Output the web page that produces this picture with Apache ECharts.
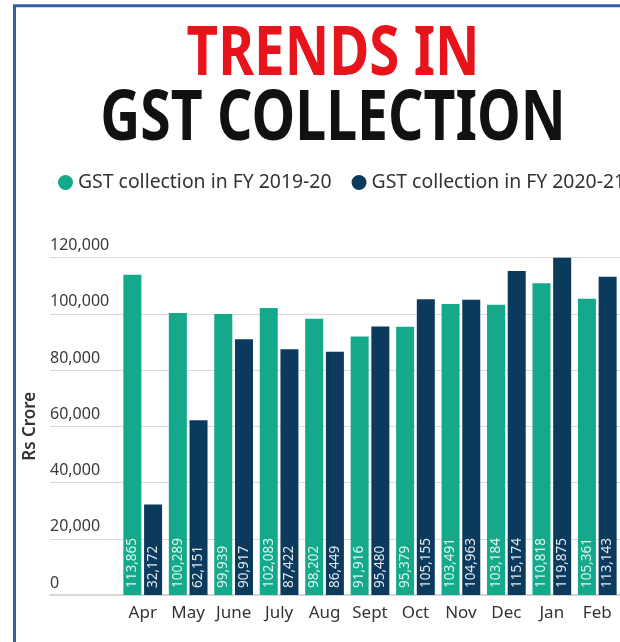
<!DOCTYPE html>
<html>
<head>
<meta charset="utf-8">
<style>
html,body{margin:0;padding:0;background:#ffffff;}
#chart{width:620px;height:642px;}
</style>
<script src="https://cdn.jsdelivr.net/npm/echarts@6/dist/echarts.min.js"></script>
</head>
<body>
<div id="chart"></div>
<script>
const months = ['Apr','May','June','July','Aug','Sept','Oct','Nov','Dec','Jan','Feb'];
const fy1920 = [113865, 100289, 99939, 102083, 98202, 91916, 95379, 103491, 103184, 110818, 105361];
const fy2021 = [32172, 62151, 90917, 87422, 86449, 95480, 105155, 104963, 115174, 119875, 113143];
const yTicks = [0, 20000, 40000, 60000, 80000, 100000, 120000];
const yTickLabels = ['0', '20,000', '40,000', '60,000', '80,000', '100,000', '120,000'];
const seriesNames = ['GST collection in FY 2019-20', 'GST collection in FY 2020-21'];

const FONT = '"Noto Sans", "Open Sans", sans-serif';
const fmt = v => v.toLocaleString('en-US');

const chart = echarts.init(document.getElementById('chart'), null, {renderer: 'canvas'});
chart.setOption({
  backgroundColor: '#ffffff',
  animation: false,
  graphic: [
    {type: 'rect', shape: {x: 14.5, y: 5.8, width: 800, height: 800},
     style: {fill: 'none', stroke: '#3c5ba5', lineWidth: 3}, z: 100},
    {type: 'text', x: 333, y: 22, scaleX: 0.805, z: 10,
     style: {text: 'TRENDS IN', textAlign: 'center', textVerticalAlign: 'top',
             fill: '#e8141c', font: 'bold 68px ' + FONT}},
    {type: 'text', x: 333, y: 85, scaleX: 0.79, z: 10,
     style: {text: 'GST COLLECTION', textAlign: 'center', textVerticalAlign: 'top',
             fill: '#111111', font: 'bold 70px ' + FONT}}
  ],
  legend: {
    left: 53, top: 168, width: 600, icon: 'circle', itemWidth: 15, itemHeight: 15, itemGap: 20,
    data: seriesNames,
    textStyle: {fontSize: 19.4, color: '#333333', fontFamily: FONT}
  },
  grid: [
    {left: 120, right: -1, top: 257.5, bottom: 47},
    {left: 50, right: 0, top: 257.5, bottom: 47}
  ],
  xAxis: [
    {type: 'category', gridIndex: 0, data: months, boundaryGap: true,
     axisLine: {show: false}, axisTick: {show: false},
     axisLabel: {interval: 0, fontSize: 17, color: '#333333', margin: 10, fontFamily: FONT}},
    {type: 'value', gridIndex: 1, show: true, min: 0, max: 1,
     axisLine: {show: true, lineStyle: {color: '#cfcfcf', width: 1.5}},
     axisTick: {show: false}, axisLabel: {show: false}, splitLine: {show: false}}
  ],
  yAxis: [
    {type: 'value', gridIndex: 0, min: 0, max: 120000, interval: 20000,
     axisLine: {show: false}, axisTick: {show: false}, axisLabel: {show: false}, splitLine: {show: false}},
    {type: 'value', gridIndex: 1, min: 0, max: 120000, interval: 20000,
     name: 'Rs Crore', nameLocation: 'middle', nameGap: 10, nameRotate: 90,
     nameTextStyle: {fontSize: 17, color: '#333333', fontWeight: 600, fontFamily: FONT},
     axisLine: {show: false}, axisTick: {show: false},
     axisLabel: {inside: true, margin: 0, align: 'left', verticalAlign: 'bottom', padding: [0, 0, 4, 0],
       fontSize: 16, color: '#3a3a3a', fontFamily: FONT,
       formatter: v => yTickLabels[yTicks.indexOf(v)]},
     splitLine: {show: true, lineStyle: {color: '#d9d9d9', width: 1}}}
  ],
  series: [
    {name: seriesNames[0], type: 'bar', xAxisIndex: 0, yAxisIndex: 0, data: fy1920,
     barWidth: 18, barGap: '15%', itemStyle: {color: '#14a98b'},
     label: {show: true, position: 'insideBottom', rotate: 90, align: 'left', verticalAlign: 'middle',
       distance: 7, fontSize: 13.5, color: '#dff5ef', fontFamily: FONT, formatter: p => fmt(p.value)}},
    {name: seriesNames[1], type: 'bar', xAxisIndex: 0, yAxisIndex: 0, data: fy2021,
     barWidth: 18, itemStyle: {color: '#0b3a5d'},
     label: {show: true, position: 'insideBottom', rotate: 90, align: 'left', verticalAlign: 'middle',
       distance: 7, fontSize: 13.5, color: '#e2e9f0', fontFamily: FONT, formatter: p => fmt(p.value)}}
  ]
});
</script>
</body>
</html>
